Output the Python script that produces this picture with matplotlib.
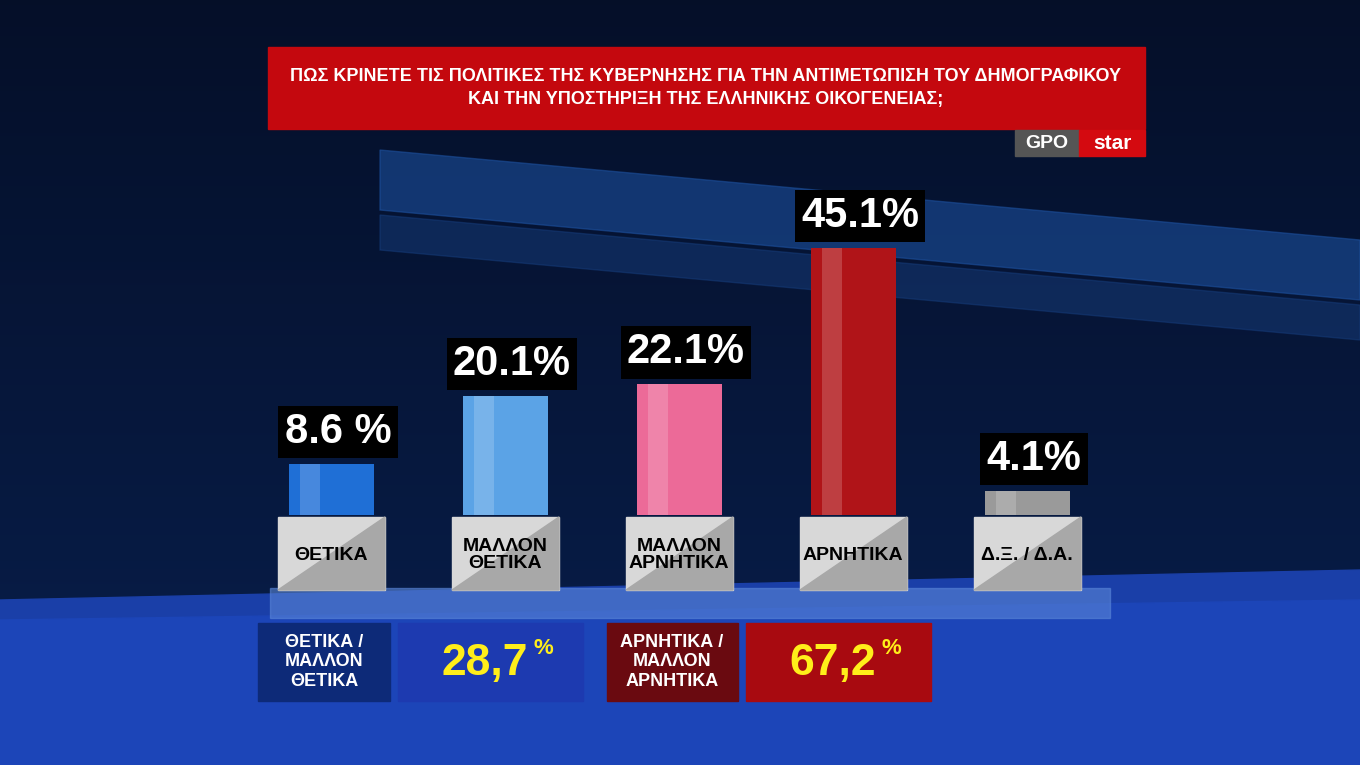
import matplotlib
matplotlib.use("Agg")
import matplotlib.pyplot as plt
import numpy as np
from matplotlib.patches import Rectangle, Polygon

plt.rcParams['font.family'] = ['Liberation Sans Narrow', 'Liberation Sans', 'DejaVu Sans']

categories = ["ΘΕΤΙΚΑ", "ΜΑΛΛΟΝ\nΘΕΤΙΚΑ", "ΜΑΛΛΟΝ\nΑΡΝΗΤΙΚΑ", "ΑΡΝΗΤΙΚΑ", "Δ.Ξ. / Δ.Α."]
values = [8.6, 20.1, 22.1, 45.1, 4.1]
value_labels = ["8.6 %", "20.1%", "22.1%", "45.1%", "4.1%"]
bar_colors = ["#1f6fd6", "#5ba3e6", "#ec6a98", "#b01418", "#9a9a9a"]
title = "ΠΩΣ ΚΡΙΝΕΤΕ ΤΙΣ ΠΟΛΙΤΙΚΕΣ ΤΗΣ ΚΥΒΕΡΝΗΣΗΣ ΓΙΑ ΤΗΝ ΑΝΤΙΜΕΤΩΠΙΣΗ ΤΟΥ ΔΗΜΟΓΡΑΦΙΚΟΥ\nΚΑΙ ΤΗΝ ΥΠΟΣΤΗΡΙΞΗ ΤΗΣ ΕΛΛΗΝΙΚΗΣ ΟΙΚΟΓΕΝΕΙΑΣ;"
summary_labels = ["ΘΕΤΙΚΑ /\nΜΑΛΛΟΝ\nΘΕΤΙΚΑ", "ΑΡΝΗΤΙΚΑ /\nΜΑΛΛΟΝ\nΑΡΝΗΤΙΚΑ"]
summary_values = ["28,7", "67,2"]

W, H = 1360, 765
fig = plt.figure(figsize=(13.6, 7.65), dpi=100)

bg = fig.add_axes([0, 0, 1, 1])
bg.set_xlim(0, W); bg.set_ylim(H, 0); bg.axis('off')
yy = np.linspace(0, 1, 300)[:, None]
top = np.array([0.02, 0.06, 0.16]); mid = np.array([0.03, 0.12, 0.30])
grad = (top + (mid - top) * yy)[:, None, :].repeat(2, axis=1)
bg.imshow(grad, extent=[0, W, H, 0], aspect='auto', zorder=0)
bg.add_patch(Polygon([[380, 150], [1360, 240], [1360, 300], [380, 210]], color="#1c4f9c", alpha=0.6, zorder=1))
bg.add_patch(Polygon([[380, 215], [1360, 305], [1360, 340], [380, 250]], color="#163d7c", alpha=0.5, zorder=1))
bg.add_patch(Polygon([[0, 600], [1360, 570], [1360, 765], [0, 765]], color="#1a3fa8", zorder=1))
bg.add_patch(Polygon([[0, 620], [1360, 600], [1360, 765], [0, 765]], color="#1c45b8", zorder=1))
bg.add_patch(Rectangle((270, 588), 840, 30, color="#5a86d8", alpha=0.6, zorder=1))

bg.add_patch(Rectangle((268, 47), 877, 82, color="#c4080e", zorder=2))
bg.text(706, 88, title, ha='center', va='center', color='white', fontsize=13, fontweight='bold', linespacing=1.45, zorder=3)
bg.add_patch(Rectangle((1015, 130), 64, 26, color="#555555", zorder=2))
bg.add_patch(Rectangle((1079, 130), 66, 26, color="#d40a10", zorder=2))
bg.text(1047, 143, "GPO", ha='center', va='center', color='white', fontsize=14, fontweight='bold', zorder=3)
bg.text(1112, 143, "star", ha='center', va='center', color='white', fontsize=15, fontweight='bold', zorder=3)

base, scale = 515, 5.92
x0, dx = 331, 174
bax = fig.add_axes([0, (H - base) / H, 1, base / H])
bax.set_xlim(-x0 / dx, (W - x0) / dx)
bax.set_ylim(0, base / scale)
bax.axis('off'); bax.patch.set_alpha(0)
xs = np.arange(len(values))
bax.bar(xs, values, width=85 / dx, color=bar_colors, zorder=2)
bax.bar(xs - 0.12, values, width=20 / dx, color='white', alpha=0.18, zorder=3)
for x, v, lab in zip(xs, values, value_labels):
    bax.text(x + 0.04, v + 2.0, lab, ha='center', va='bottom', color='white', fontsize=30, fontweight='bold',
             bbox=dict(boxstyle='square,pad=0.15', fc='black', ec='none'), zorder=4)

for i, c in enumerate(categories):
    cx = x0 + dx * i
    bg.add_patch(Rectangle((cx - 53, 517), 107, 73, color="#d8d8d8", zorder=5))
    bg.add_patch(Polygon([[cx - 53, 590], [cx + 54, 517], [cx + 54, 590]], color="#a8a8a8", zorder=5))
    bg.text(cx, 555, c, ha='center', va='center', color='black', fontsize=14, fontweight='bold', linespacing=1.0, zorder=6)

bg.add_patch(Rectangle((258, 623), 132, 78, color="#0d2a78", zorder=5))
bg.add_patch(Rectangle((398, 623), 185, 78, color="#1d3ab0", zorder=5))
bg.add_patch(Rectangle((607, 623), 131, 78, color="#6a0a10", zorder=5))
bg.add_patch(Rectangle((746, 623), 185, 78, color="#a80a10", zorder=5))
bg.text(324, 662, summary_labels[0], ha='center', va='center', color='white', fontsize=13, fontweight='bold', zorder=6)
bg.text(672, 662, summary_labels[1], ha='center', va='center', color='white', fontsize=13, fontweight='bold', zorder=6)
for cx, v in [(485, summary_values[0]), (833, summary_values[1])]:
    bg.text(cx, 664, v, ha='center', va='center', color='#ffee1a', fontsize=32, fontweight='bold', zorder=6)
    bg.text(cx + 58, 648, "%", ha='center', va='center', color='#ffee1a', fontsize=16, fontweight='bold', zorder=6)

fig.savefig("out.png", dpi=100)
